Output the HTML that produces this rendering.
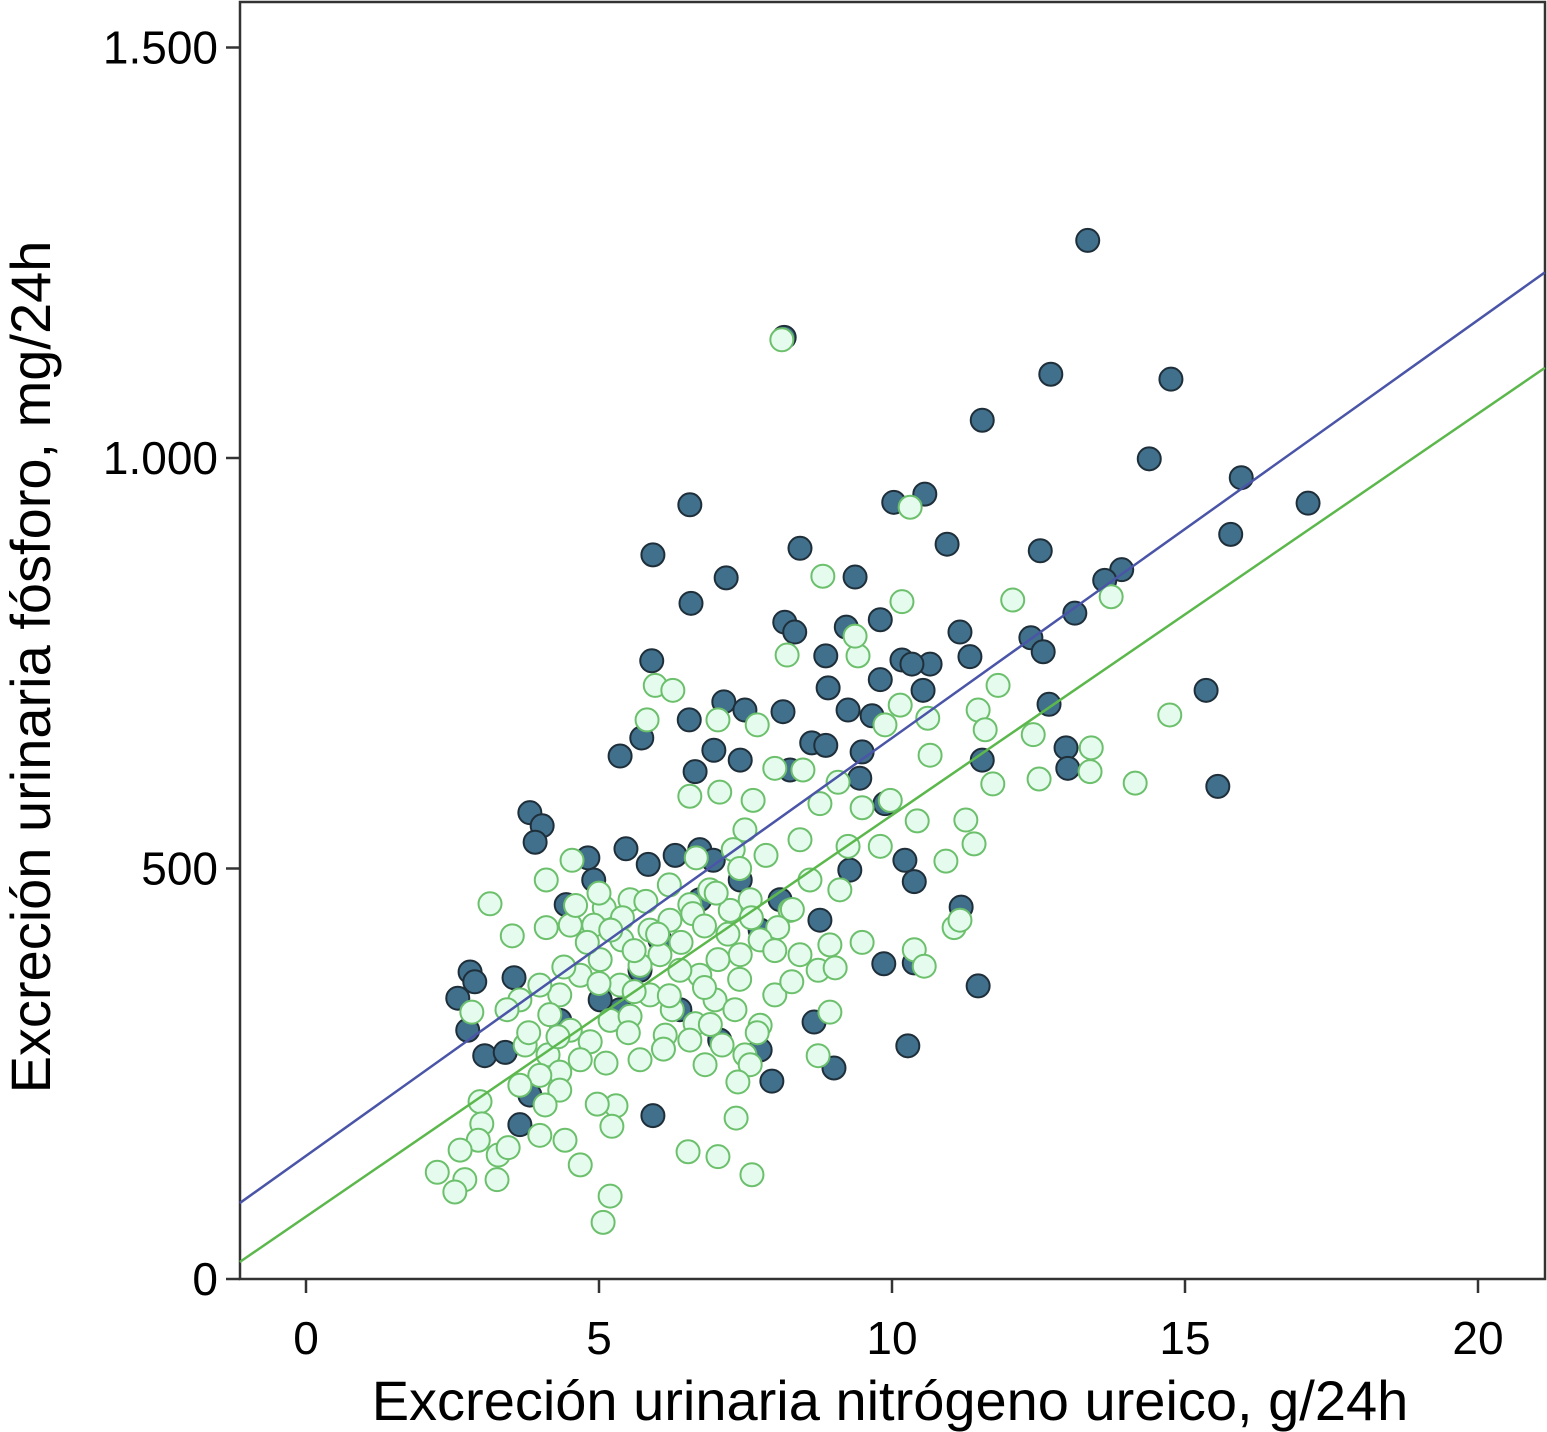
<!DOCTYPE html>
<html><head><meta charset="utf-8"><style>
html,body{margin:0;padding:0;background:#fff;}
svg{display:block;font-family:"Liberation Sans",Arial,sans-serif;}
</style></head><body>
<svg id="chart" width="1547" height="1432" viewBox="0 0 1547 1432" xmlns="http://www.w3.org/2000/svg">
<rect x="240" y="2" width="1305" height="1277" fill="#fff" stroke="#333" stroke-width="2.5"/>
<g id="axes"></g>
<g id="marks"></g>
<text x="890" y="1420" font-size="56" text-anchor="middle" fill="#000">Excreción urinaria nitrógeno ureico, g/24h</text>
<text transform="translate(50,667) rotate(-90)" font-size="56" text-anchor="middle" fill="#000">Excreción urinaria fósforo, mg/24h</text>
</svg>
<script>
const xTicks=[0,5,10,15,20];
const xTickLabels=["0","5","10","15","20"];
const yTicks=[0,500,1000,1500];
const yTickLabels=["0","500","1.000","1.500"];
const darkX=[13.34,8.16,12.71,14.76,11.54,14.39,15.96,10.03,10.56,6.55,17.10,15.78,10.94,5.92,8.43,12.53,7.17,9.37,13.92,13.63,6.57,13.12,8.17,8.34,11.16,9.22,9.80,12.37,12.58,5.90,8.87,11.33,10.17,10.65,10.34,8.91,9.80,10.53,15.36,7.13,7.49,6.54,8.14,9.25,9.66,12.68,5.73,5.36,8.63,8.87,9.49,6.96,7.41,11.54,12.97,13.0,15.56,6.64,8.26,9.45,9.88,3.82,4.03,3.91,5.46,4.91,5.84,6.30,6.72,6.95,10.22,10.38,4.81,4.44,11.18,11.47,10.27,10.38,9.86,9.01,8.67,7.95,5.92,2.59,2.80,2.88,2.76,3.05,3.40,3.55,3.65,3.82,5.70,5.36,4.33,5.02,6.04,6.72,7.75,7.41,8.09,8.77,9.28,6.38,7.06,7.75];
const darkY=[1265,1147,1102,1096,1046,999,976,946,956,943,945,907,895,882,890,887,854,855,864,851,823,811,800,788,788,794,803,781,764,753,759,758,754,749,749,720,730,717,717,703,693,681,691,693,686,700,659,637,653,650,642,644,632,632,647,622,600,618,620,610,579,568,552,532,524,486,505,516,523,510,510,484,513,456,453,357,284,385,384,257,313,241,199,342,374,362,303,272,276,367,188,224,376,328,315,340,413,462,425,486,462,437,498,328,291,279];
const greenX=[8.12,10.31,8.82,10.17,12.06,13.74,8.21,9.42,9.37,5.96,6.26,11.81,10.14,10.61,11.47,11.59,5.82,7.03,7.70,9.88,14.74,12.41,13.40,13.38,12.51,11.72,14.15,10.65,8.00,8.48,6.55,7.06,7.63,9.08,8.77,9.49,9.97,10.43,11.26,11.40,10.92,7.49,7.29,6.66,7.85,8.43,9.25,9.80,4.10,4.54,5.53,5.09,3.14,3.52,4.10,4.51,4.91,5.39,5.87,6.21,6.55,6.89,7.24,7.58,8.26,8.60,9.11,9.49,10.38,10.55,11.06,11.16,8.05,7.75,7.41,7.03,6.72,6.38,6.04,5.70,5.36,5.02,4.68,4.33,3.99,3.65,3.43,4.16,4.51,4.85,5.19,5.53,5.87,6.25,6.64,6.98,7.32,7.75,8.00,8.29,8.74,9.03,8.94,8.43,2.83,3.74,4.13,4.33,3.99,4.68,5.12,5.70,6.13,6.55,6.81,7.10,7.49,7.58,7.37,5.29,4.97,4.33,4.08,3.65,2.97,3.00,2.94,3.28,3.45,3.99,4.42,4.68,5.22,2.63,2.71,2.24,2.54,3.26,5.19,5.07,6.52,7.03,7.61,7.34,8.74,8.94,
4.6,5.0,5.4,5.8,6.2,6.6,7.0,7.4,4.8,5.2,5.6,6.0,6.4,6.8,7.2,7.6,4.4,5.0,5.6,6.2,6.8,7.4,8.0,3.8,4.3,5.5,6.1,6.9,7.7,8.3];
const greenY=[1144,940,856,825,827,831,760,759,783,723,717,723,699,683,693,669,681,681,675,675,687,663,647,618,609,603,604,638,622,620,588,593,583,605,579,574,583,558,559,530,509,547,523,513,516,535,527,527,486,510,462,452,457,418,428,431,431,413,425,437,456,474,449,462,449,486,474,410,401,381,428,437,428,413,395,389,370,376,395,382,358,389,370,346,358,340,328,322,303,289,315,320,346,328,311,340,328,309,346,362,376,379,407,395,325,285,273,252,248,267,263,267,297,291,261,285,273,261,240,211,213,230,212,236,216,189,169,151,160,175,169,139,186,157,121,130,106,121,101,69,155,149,127,196,272,325,
455,470,440,460,480,445,470,500,410,425,400,420,410,430,420,440,380,360,350,345,355,365,400,300,295,300,280,310,300,450];
const blueLine=[150,50.9];
const greenLine=[76,48.9];
const X0=-1.13,X1=21.14;
const sx=v=>306+v*58.6;
const sy=v=>1279-v*0.821;
const NS="http://www.w3.org/2000/svg";
const axes=document.getElementById('axes'),marks=document.getElementById('marks');
function mk(tag,attrs,parent){const e=document.createElementNS(NS,tag);for(const k in attrs)e.setAttribute(k,attrs[k]);parent.appendChild(e);return e;}
xTicks.forEach((t,i)=>{
 const l=mk('line',{x1:sx(t),x2:sx(t),y1:1279,y2:1293,stroke:'#333','stroke-width':2.5},axes);
 
 
 const tx=mk('text',{x:sx(t),y:1354,'font-size':46,'text-anchor':'middle',fill:'#000'},axes);
 tx.textContent=xTickLabels[i];
 
 
});
yTicks.forEach((t,i)=>{
 const l=mk('line',{x1:226,x2:240,y1:sy(t),y2:sy(t),stroke:'#333','stroke-width':2.5},axes);
 
 
 const tx=mk('text',{x:218,y:sy(t)+16,'font-size':46,'text-anchor':'end',fill:'#000'},axes);
 tx.textContent=yTickLabels[i];
 
 
});
darkX.forEach((x,i)=>{
 const c=mk('circle',{cx:sx(x),cy:sy(darkY[i]),r:11.5,fill:'#41708c',stroke:'#1f2f3a','stroke-width':2},marks);
 
 
});
greenX.forEach((x,i)=>{
 const c=mk('circle',{cx:sx(x),cy:sy(greenY[i]),r:11.5,fill:'#e4fbee',stroke:'#6cc06c','stroke-width':2},marks);
 
 
});
const bl=mk('line',{x1:sx(X0),y1:sy(blueLine[0]+blueLine[1]*X0),x2:sx(X1),y2:sy(blueLine[0]+blueLine[1]*X1),stroke:'#4a55a8','stroke-width':2.5},marks);


const gl=mk('line',{x1:sx(X0),y1:sy(greenLine[0]+greenLine[1]*X0),x2:sx(X1),y2:sy(greenLine[0]+greenLine[1]*X1),stroke:'#5cb84c','stroke-width':2.5},marks);


</script>
</body></html>
